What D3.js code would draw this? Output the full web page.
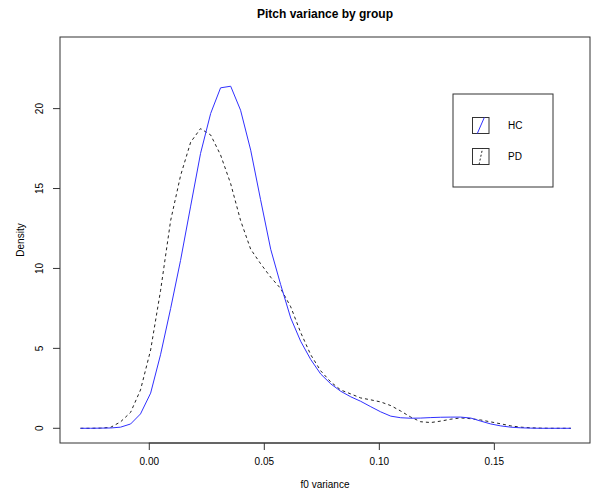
<!DOCTYPE html>
<html>
<head>
<meta charset="utf-8">
<script src="https://d3js.org/d3.v7.min.js"></script>
<style>
    body { margin: 0; background: #fff; }
    text { font-family: "Liberation Sans", Arial, sans-serif; fill: #000; }
</style>
</head>
<body>
<svg id="chart"></svg>
<script>
// Density estimates (50 points each)
const xValues = [-0.0297, -0.0253, -0.0210, -0.0166, -0.0123, -0.0079, -0.0036, 0.0008, 0.0051, 0.0095,
    0.0138, 0.0182, 0.0225, 0.0269, 0.0312, 0.0356, 0.0399, 0.0443, 0.0486, 0.0530,
    0.0573, 0.0617, 0.0660, 0.0704, 0.0747, 0.0791, 0.0834, 0.0878, 0.0921, 0.0965,
    0.1008, 0.1052, 0.1095, 0.1139, 0.1182, 0.1226, 0.1269, 0.1313, 0.1356, 0.1400,
    0.1443, 0.1487, 0.1530, 0.1574, 0.1617, 0.1661, 0.1704, 0.1748, 0.1791, 0.1835];

const hcDensity = [0, 0, 0.01, 0.02, 0.07, 0.27, 0.9, 2.2, 4.6, 7.5,
    10.5, 13.9, 17.2, 19.7, 21.3, 21.4, 19.9, 17.4, 14.3, 11.2,
    9.0, 6.9, 5.45, 4.3, 3.4, 2.78, 2.32, 1.97, 1.69, 1.35,
    1.03, 0.76, 0.66, 0.63, 0.64, 0.67, 0.69, 0.70, 0.70, 0.64,
    0.45, 0.27, 0.15, 0.07, 0.03, 0.01, 0, 0, 0, 0];

const pdDensity = [0, 0, 0.01, 0.06, 0.4, 1.0, 2.4, 4.9, 8.6, 13.0,
    15.8, 17.9, 18.75, 18.35, 17.1, 15.3, 13.0, 11.2, 10.3, 9.45,
    8.75, 7.6, 6.0, 4.6, 3.6, 2.9, 2.4, 2.15, 1.9, 1.78,
    1.65, 1.42, 1.08, 0.7, 0.41, 0.36, 0.45, 0.57, 0.65, 0.6,
    0.52, 0.4, 0.28, 0.15, 0.07, 0.03, 0.01, 0, 0, 0];

const groups = ["HC", "PD"];
const xTicks = [0, 0.05, 0.10, 0.15];
const yTicks = [0, 5, 10, 15, 20];

const width = 595;
const height = 490;
const box = { left: 60, right: 590, top: 37, bottom: 443 };

const svg = d3.select("#chart")
    .attr("width", width)
    .attr("height", height);

const x = d3.scaleLinear()
    .domain([-0.0386, 0.1918])
    .range([box.left, box.right]);

const y = d3.scaleLinear()
    .domain([-0.92, 24.48])
    .range([box.bottom, box.top]);

// Title
svg.append("text")
    .attr("x", (box.left + box.right) / 2)
    .attr("y", 18)
    .attr("text-anchor", "middle")
    .style("font-size", "12px")
    .style("font-weight", "bold")
    .text("Pitch variance by group");

// Axes, R style: line only over the tick range
const xAxis = svg.append("g")
    .attr("transform", `translate(0,${box.bottom})`)
    .call(d3.axisBottom(x).tickValues(xTicks).tickFormat(d3.format(".2f")).tickSize(7).tickPadding(8));

const yAxis = svg.append("g")
    .attr("transform", `translate(${box.left},0)`)
    .call(d3.axisLeft(y).tickValues(yTicks).tickFormat(d3.format("d")).tickSize(7).tickPadding(4));

[xAxis, yAxis].forEach(g => {
    g.select(".domain").remove();
    g.selectAll("line").attr("stroke", "#333");
    g.selectAll("text").style("font-size", "10px").style("font-family", "Liberation Sans, Arial, sans-serif");
});

svg.append("line")
    .attr("x1", x(xTicks[0])).attr("x2", x(xTicks[xTicks.length - 1]))
    .attr("y1", box.bottom).attr("y2", box.bottom)
    .attr("stroke", "#333");

// rotated y tick labels
yAxis.selectAll("text")
    .attr("text-anchor", "middle")
    .attr("dy", 0)
    .attr("x", 0)
    .attr("transform", d => `translate(-17,${y(d)}) rotate(-90)`)
    .attr("y", 0);
yAxis.selectAll(".tick").attr("transform", null);
yAxis.selectAll(".tick line")
    .attr("y1", d => y(d)).attr("y2", d => y(d));

// Plot box
svg.append("rect")
    .attr("x", box.left).attr("y", box.top)
    .attr("width", box.right - box.left).attr("height", box.bottom - box.top)
    .attr("fill", "none")
    .attr("stroke", "#333");

// Axis titles
svg.append("text")
    .attr("x", (box.left + box.right) / 2)
    .attr("y", 488)
    .attr("text-anchor", "middle")
    .style("font-size", "10px")
    .text("f0 variance");

svg.append("text")
    .attr("transform", `translate(24,${(box.top + box.bottom) / 2}) rotate(-90)`)
    .attr("text-anchor", "middle")
    .style("font-size", "10px")
    .text("Density");

// Density curves
const line = d3.line()
    .x((d, i) => x(xValues[i]))
    .y(d => y(d));

svg.append("path")
    .datum(pdDensity)
    .attr("d", line)
    .attr("fill", "none")
    .attr("stroke", "#222")
    .attr("stroke-width", 1)
    .attr("stroke-dasharray", "3,3");

svg.append("path")
    .datum(hcDensity)
    .attr("d", line)
    .attr("fill", "none")
    .attr("stroke", "#3030ff")
    .attr("stroke-width", 1);

// Legend
const legend = svg.append("g");
legend.append("rect")
    .attr("x", 453).attr("y", 94)
    .attr("width", 100).attr("height", 93)
    .attr("fill", "none")
    .attr("stroke", "#333");

const legendStyles = [
    { stroke: "#3030ff", dash: null, slant: 7 },
    { stroke: "#222", dash: "2,2", slant: 3.5 }
];

groups.forEach((g, i) => {
    const cy = 125.5 + i * 31;
    const s = legendStyles[i];
    legend.append("rect")
        .attr("x", 472.5).attr("y", cy - 8)
        .attr("width", 16.5).attr("height", 16)
        .attr("fill", "none")
        .attr("stroke", "#333");
    legend.append("line")
        .attr("x1", 480.8 - s.slant / 2).attr("y1", cy + 8)
        .attr("x2", 480.8 + s.slant / 2).attr("y2", cy - 8)
        .attr("stroke", s.stroke)
        .attr("stroke-dasharray", s.dash);
    legend.append("text")
        .attr("x", 508)
        .attr("y", cy)
        .attr("dy", "0.35em")
        .style("font-size", "10px")
        .text(g);
});
</script>
</body>
</html>
